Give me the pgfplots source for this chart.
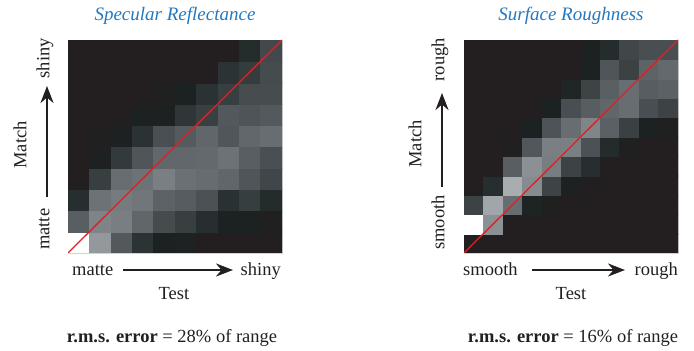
\documentclass[border=0pt]{standalone}
\usepackage{fontspec}
\setmainfont{Liberation Serif}
\usepackage{pgfplots}
\pgfplotsset{compat=1.18}
\usetikzlibrary{arrows.meta}
\definecolor{ink}{RGB}{35,31,32}
\definecolor{ttl}{RGB}{36,120,190}
\definecolor{diagred}{RGB}{227,30,36}
\pgfplotsset{
  colormap={heat}{rgb255(33pt)=(35,31,32); rgb255(38pt)=(27,34,33); rgb255(50pt)=(42,49,50); rgb255(80pt)=(75,81,84); rgb255(115pt)=(110,116,120); rgb255(150pt)=(148,154,158); rgb255(255pt)=(255,255,255)},
  hm/.style={width=214pt,height=213pt,scale only axis,anchor=south west,
    enlargelimits=false,xtick=\empty,ytick=\empty,
    axis line style={gray!35,line width=0.4pt},clip marker paths=true,
    point meta min=33,point meta max=255,colormap name=heat},
  hmsquares/.style={scatter,only marks,mark=square*,line width=0.2pt,
    scatter/use mapped color={draw=mapped color,fill=mapped color},point meta=explicit},
}
\begin{document}
\begin{tikzpicture}[x=1pt,y=1pt,font=\fontsize{18.5}{22}\selectfont,text=ink]
\useasboundingbox (0,0) rectangle (694,351);
% left panel
\begin{axis}[hm,at={(68pt,98pt)},xmin=0.5,xmax=10.5,ymin=0.5,ymax=10.5]
\addplot[hmsquares,mark size=10.75pt] table[row sep=\\,meta=c]{
x y c\\
1 1 255\\ 2 1 148\\ 3 1 87\\ 4 1 52\\ 5 1 38\\ 6 1 39\\ 7 1 33\\ 8 1 33\\ 9 1 33\\ 10 1 33\\
1 2 93\\ 2 2 130\\ 3 2 124\\ 4 2 101\\ 5 2 75\\ 6 2 63\\ 7 2 48\\ 8 2 38\\ 9 2 38\\ 10 2 34\\
1 3 48\\ 2 3 113\\ 3 3 121\\ 4 3 117\\ 5 3 97\\ 6 3 91\\ 7 3 80\\ 8 3 50\\ 9 3 62\\ 10 3 45\\
1 4 33\\ 2 4 63\\ 3 4 108\\ 4 4 113\\ 5 4 125\\ 6 4 111\\ 7 4 107\\ 8 4 101\\ 9 4 84\\ 10 4 70\\
1 5 33\\ 2 5 36\\ 3 5 58\\ 4 5 84\\ 5 5 102\\ 6 5 102\\ 7 5 104\\ 8 5 113\\ 9 5 93\\ 10 5 78\\
1 6 33\\ 2 6 34\\ 3 6 37\\ 4 6 51\\ 5 6 78\\ 6 6 89\\ 7 6 101\\ 8 6 85\\ 9 6 102\\ 10 6 108\\
1 7 33\\ 2 7 33\\ 3 7 33\\ 4 7 38\\ 5 7 36\\ 6 7 55\\ 7 7 64\\ 8 7 87\\ 9 7 83\\ 10 7 88\\
1 8 33\\ 2 8 33\\ 3 8 33\\ 4 8 33\\ 5 8 35\\ 6 8 38\\ 7 8 51\\ 8 8 63\\ 9 8 76\\ 10 8 76\\
1 9 33\\ 2 9 33\\ 3 9 33\\ 4 9 33\\ 5 9 33\\ 6 9 33\\ 7 9 33\\ 8 9 52\\ 9 9 60\\ 10 9 75\\
1 10 33\\ 2 10 33\\ 3 10 33\\ 4 10 33\\ 5 10 33\\ 6 10 33\\ 7 10 33\\ 8 10 33\\ 9 10 46\\ 10 10 72\\
};
\addplot[color=diagred,line width=1.3pt,mark=none,point meta=none] coordinates {(0.5,0.5) (10.5,10.5)};
\end{axis}
% right panel
\begin{axis}[hm,at={(464pt,98pt)},xmin=0.5,xmax=11.5,ymin=0.5,ymax=11.5]
\addplot[hmsquares,mark size=9.8pt] table[row sep=\\,meta=c]{
x y c\\
1 1 33\\ 2 1 33\\ 3 1 33\\ 4 1 33\\ 5 1 33\\ 6 1 33\\ 7 1 33\\ 8 1 33\\ 9 1 33\\ 10 1 33\\ 11 1 33\\
1 2 255\\ 2 2 141\\ 3 2 33\\ 4 2 33\\ 5 2 33\\ 6 2 33\\ 7 2 33\\ 8 2 33\\ 9 2 33\\ 10 2 33\\ 11 2 33\\
1 3 67\\ 2 3 162\\ 3 3 108\\ 4 3 40\\ 5 3 35\\ 6 3 33\\ 7 3 33\\ 8 3 33\\ 9 3 33\\ 10 3 33\\ 11 3 33\\
1 4 33\\ 2 4 48\\ 3 4 170\\ 4 4 136\\ 5 4 68\\ 6 4 37\\ 7 4 33\\ 8 4 33\\ 9 4 33\\ 10 4 33\\ 11 4 33\\
1 5 33\\ 2 5 33\\ 3 5 93\\ 4 5 141\\ 5 5 123\\ 6 5 67\\ 7 5 48\\ 8 5 33\\ 9 5 33\\ 10 5 33\\ 11 5 33\\
1 6 33\\ 2 6 33\\ 3 6 35\\ 4 6 86\\ 5 6 125\\ 6 6 125\\ 7 6 80\\ 8 6 45\\ 9 6 35\\ 10 6 33\\ 11 6 33\\
1 7 33\\ 2 7 33\\ 3 7 33\\ 4 7 38\\ 5 7 82\\ 6 7 108\\ 7 7 131\\ 8 7 95\\ 9 7 65\\ 10 7 38\\ 11 7 35\\
1 8 33\\ 2 8 33\\ 3 8 33\\ 4 8 33\\ 5 8 38\\ 6 8 77\\ 7 8 92\\ 8 8 101\\ 9 8 108\\ 10 8 77\\ 11 8 67\\
1 9 33\\ 2 9 33\\ 3 9 33\\ 4 9 33\\ 5 9 33\\ 6 9 41\\ 7 9 68\\ 8 9 94\\ 9 9 108\\ 10 9 92\\ 11 9 96\\
1 10 33\\ 2 10 33\\ 3 10 33\\ 4 10 33\\ 5 10 33\\ 6 10 33\\ 7 10 38\\ 8 10 84\\ 9 10 66\\ 10 10 98\\ 11 10 104\\
1 11 33\\ 2 11 33\\ 3 11 33\\ 4 11 33\\ 5 11 33\\ 6 11 33\\ 7 11 37\\ 8 11 46\\ 9 11 70\\ 10 11 77\\ 11 11 77\\
};
\addplot[color=diagred,line width=1.3pt,mark=none,point meta=none] coordinates {(0.5,0.5) (11.5,11.5)};
\end{axis}
% titles
\node[anchor=base,inner sep=0,text=ttl,font=\fontsize{19}{22}\selectfont\itshape] at (175,330) {Specular Reflectance};
\node[anchor=base,inner sep=0,text=ttl,font=\fontsize{19}{22}\selectfont\itshape] at (571,330) {Surface Roughness};
% left labels
\node[anchor=base west,inner sep=0] at (72,75) {matte};
\node[anchor=base east,inner sep=0] at (281,75) {shiny};
\draw[ink,line width=2.6pt,-{Stealth[length=17pt,width=13pt]}] (123,81) -- (233,81);
\node[anchor=base,inner sep=0] at (174,51) {Test};
\node[anchor=base,inner sep=0] at (172,9) {\textbf{r.m.s. error} = 28\% of range};
\node[rotate=90,anchor=mid east,inner sep=0] at (47,313) {shiny};
\node[rotate=90,anchor=mid west,inner sep=0] at (47,101) {matte};
\draw[ink,line width=2.6pt,-{Stealth[length=17pt,width=13pt]}] (47,154) -- (47,265);
\node[rotate=90,anchor=mid,inner sep=0] at (24,206) {Match};
% right labels
\node[anchor=base west,inner sep=0] at (463,75) {smooth};
\node[anchor=base east,inner sep=0] at (678,75) {rough};
\draw[ink,line width=2.6pt,-{Stealth[length=17pt,width=13pt]}] (532,81) -- (625,81);
\node[anchor=base,inner sep=0] at (571,51) {Test};
\node[anchor=base,inner sep=0] at (573,9) {\textbf{r.m.s. error} = 16\% of range};
\node[rotate=90,anchor=mid east,inner sep=0] at (442,313) {rough};
\node[rotate=90,anchor=mid west,inner sep=0] at (442,101) {smooth};
\draw[ink,line width=2.6pt,-{Stealth[length=17pt,width=13pt]}] (442,164) -- (442,258);
\node[rotate=90,anchor=mid,inner sep=0] at (419,207) {Match};
\end{tikzpicture}
\end{document}
